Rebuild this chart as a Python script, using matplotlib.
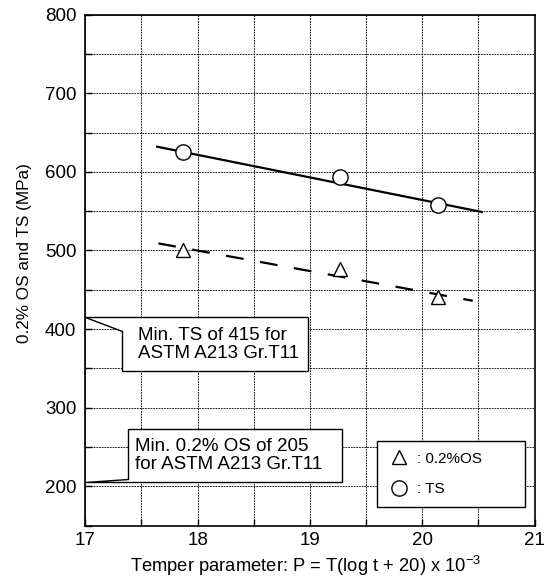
import matplotlib
matplotlib.use("Agg")
import matplotlib.pyplot as plt
from matplotlib.patches import Polygon
from matplotlib.ticker import MultipleLocator

plt.rcParams["font.family"] = ["Liberation Sans", "DejaVu Sans"]
plt.rcParams["mathtext.default"] = "regular"

# data
p_vals = [17.87, 19.27, 20.14]
os_vals = [500, 476, 441]
ts_vals = [625, 593, 558]

# regression lines (end points)
ts_fit_p = [17.64, 20.53]
ts_fit_v = [632, 549]
os_fit_p = [17.65, 20.45]
os_fit_v = [509, 436]

# spec minimums (ASTM A213 Gr.T11)
min_ts = 415
min_os = 205


def callout(ax, tip_y, box, join_y, text, text_x):
    # box = (x0, x1, y0, y1); pointer tip on the left axis
    x0, x1, y0, y1 = box
    xmin = ax.get_xlim()[0]
    if tip_y >= y1:
        pts = [(xmin, tip_y), (x1, y1), (x1, y0), (x0, y0), (x0, join_y)]
    else:
        pts = [(xmin, tip_y), (x1, y0), (x1, y1), (x0, y1), (x0, join_y)]
    ax.add_patch(Polygon(pts, closed=True, facecolor="white", edgecolor="black",
                         lw=1.0, zorder=5, clip_on=False))
    ax.text(text_x, (y0 + y1) / 2, text, fontsize=13.5, va="center", ha="left",
            linespacing=1.05, zorder=6)


fig = plt.figure(figsize=(5.49, 5.79), dpi=100)
ax = fig.add_axes([0.1554, 0.0924, 0.8182, 0.8822])

ax.set_xlim(17, 21)
ax.set_ylim(150, 800)
ax.xaxis.set_major_locator(MultipleLocator(1))
ax.xaxis.set_minor_locator(MultipleLocator(0.5))
ax.yaxis.set_major_locator(MultipleLocator(100))
ax.yaxis.set_minor_locator(MultipleLocator(50))
ax.grid(True, which="both", color="#111111", ls=(0, (2, 1)), lw=0.65)
ax.set_axisbelow(True)
ax.tick_params(which="both", direction="in", length=5, width=1, labelsize=13.5)
ax.tick_params(axis="y", pad=6.5)
ax.tick_params(axis="x", pad=5)
for sp in ax.spines.values():
    sp.set_linewidth(1.2)

ax.plot(ts_fit_p, ts_fit_v, color="black", lw=1.6, zorder=3)
ax.plot(os_fit_p, os_fit_v, color="black", lw=1.6, ls=(0, (8, 7.5)), zorder=3)
h_os, = ax.plot(p_vals, os_vals, ls="none", marker="^", ms=10, mfc="white",
                mec="black", mew=1.0, zorder=4, label=": 0.2%OS")
h_ts, = ax.plot(p_vals, ts_vals, ls="none", marker="o", ms=11, mfc="white",
                mec="black", mew=1.0, zorder=4, label=": TS")

callout(ax, min_ts, (17.324, 18.98, 346.3, min_ts), 398,
        "Min. TS of 415 for\nASTM A213 Gr.T11", 17.47)
callout(ax, min_os, (17.38, 19.29, min_os, 273), 209.5,
        "Min. 0.2% OS of 205\nfor ASTM A213 Gr.T11", 17.44)

leg = ax.legend(handles=[h_os, h_ts], loc="lower left",
                bbox_to_anchor=(0.6487, 0.0356, 0.330, 0.135), mode="expand",
                borderaxespad=0, fontsize=11, fancybox=False, framealpha=1,
                edgecolor="black", borderpad=0.71, labelspacing=1.09,
                handlelength=1.53, handletextpad=0.37)
leg.get_frame().set_linewidth(1.0)
leg.set_zorder(6)

ax.set_xlabel("Temper parameter: P = T(log t + 20) x 10$^{-3}$", fontsize=13.2)
ax.xaxis.set_label_coords(0.490, -0.0555)
ax.set_ylabel("0.2% OS and TS (MPa)", fontsize=12.3)
ax.yaxis.set_label_coords(-0.1187, 0.533)

fig.savefig("out.png", dpi=100)
